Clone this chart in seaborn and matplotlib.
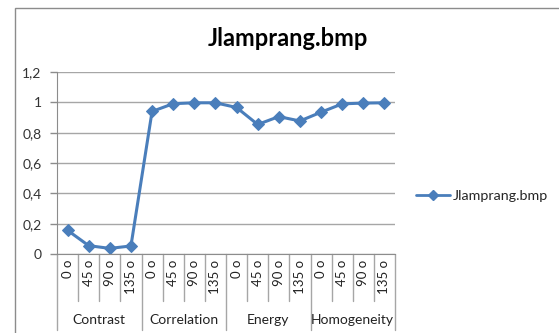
import matplotlib
matplotlib.use("Agg")
import matplotlib.pyplot as plt
import matplotlib.transforms as mtransforms
import seaborn as sns
import pandas as pd

groups = ["Contrast", "Correlation", "Energy", "Homogeneity"]
angles = ["0 o", "45 o", "90 o", "135 o"]
values = [0.156, 0.055, 0.037, 0.053,
          0.940, 0.991, 0.997, 0.997,
          0.966, 0.854, 0.906, 0.877,
          0.935, 0.990, 0.995, 0.997]
series_name = "Jlamprang.bmp"
title = "Jlamprang.bmp"
yticks = [0, 0.2, 0.4, 0.6, 0.8, 1.0, 1.2]
ytick_labels = ["0", "0,2", "0,4", "0,6", "0,8", "1", "1,2"]

sns.set_style("white")
plt.rcParams["font.family"] = ["Lato", "DejaVu Sans"]

W, H = 559, 333
fig = plt.figure(figsize=(W / 100, H / 100), dpi=100)

# chart frame border
frame = plt.Rectangle((14.5 / W, -0.1), 1.2, (H - 7.5) / H + 0.1, transform=fig.transFigure,
                      fill=False, edgecolor="#8c8c8c", linewidth=1.0)
fig.add_artist(frame)

left, right, top, bottom = 57, 395, 72, 254
ax = fig.add_axes([left / W, 1 - bottom / H, (right - left) / W, (bottom - top) / H])

n = len(values)
labels = [a for g in groups for a in angles]
df = pd.DataFrame({"idx": list(range(n)), "value": values, "series": series_name})

color = "#4a7ebb"
sns.lineplot(data=df, x="idx", y="value", hue="series", palette=[color], marker="D",
             markersize=6.5, markeredgecolor=color, linewidth=2.2, ax=ax)

ax.set_xlim(-0.5, n - 0.5)
ax.set_ylim(0, 1.2)
ax.set_yticks(yticks)
ax.set_yticklabels(ytick_labels, fontsize=10, color="#333333")
ax.yaxis.grid(True, color="#a6a6a6", linewidth=1.0)
ax.xaxis.grid(False)
ax.tick_params(axis="y", length=5, width=1, color="#8c8c8c", pad=6, left=True)
for s in ["top", "right"]:
    ax.spines[s].set_visible(False)
ax.spines["left"].set_color("#8c8c8c")
ax.spines["bottom"].set_color("#8c8c8c")
ax.set_xlabel("")
ax.set_ylabel("")

ax.set_xticks(range(n))
ax.set_xticklabels(labels, rotation=90, fontsize=9.5, color="#222222")
ax.tick_params(axis="x", length=0, pad=4)

# category separator lines under the axis
trans = mtransforms.blended_transform_factory(ax.transData, ax.transAxes)
ax_h = bottom - top
for i in range(n + 1):
    x = i - 0.5
    if i % 4 == 0:
        y_end = -(330 - bottom) / ax_h
    else:
        y_end = -(301 - bottom) / ax_h
    ax.plot([x, x], [0, y_end], transform=trans, color="#a6a6a6", linewidth=1.0,
            clip_on=False)

for gi, g in enumerate(groups):
    ax.text(gi * 4 + 1.5, -(320 - bottom) / ax_h, g, transform=trans, ha="center",
            va="center", fontsize=10, color="#222222")

ax.get_legend().remove()
handle = plt.Line2D([], [], color=color, marker="D", markersize=5, linewidth=2.0)
fig.legend([handle], [series_name], loc="center left", bbox_to_anchor=(416 / W, 1 - 196 / H),
           frameon=False, fontsize=10.3, handlelength=2.4, handletextpad=0.15, borderaxespad=0,
           borderpad=0)

fig.text(288 / W, 1 - 38 / H, title, ha="center", va="center", fontsize=17,
         fontweight="bold", color="#000000")

fig.savefig("out.png", dpi=100, facecolor="white")
